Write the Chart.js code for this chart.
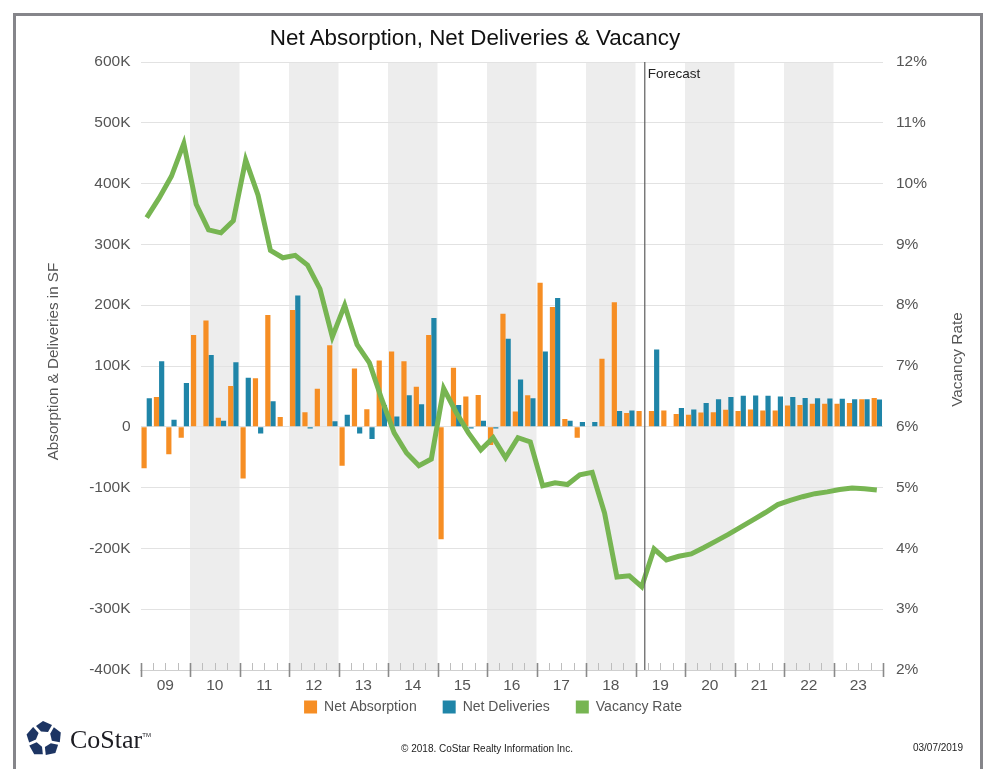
<!DOCTYPE html>
<html>
<head>
<meta charset="utf-8">
<title>Net Absorption, Net Deliveries & Vacancy</title>
<script src="https://cdn.jsdelivr.net/npm/chart.js@4"></script>
<style>
  html, body { margin: 0; padding: 0; background: #fff; overflow: hidden; }
  #page { position: relative; width: 994px; height: 769px; font-family: "Liberation Sans", Arial, sans-serif; }
  #frame { position: absolute; left: 13px; top: 13px; width: 964px; height: 760px; border: 3px solid #85858a; }
  #chart { position: absolute; left: 0; top: 0; }
  #title { position: absolute; left: 175px; width: 600px; top: 25px; text-align: center; font-size: 22.4px; color: #111; }
  #copy { position: absolute; left: 287px; width: 400px; top: 743px; text-align: center; font-size: 10px; color: #222; }
  #date { position: absolute; left: 863px; width: 100px; top: 742px; text-align: right; font-size: 10px; color: #222; }
  #logo { position: absolute; left: 26px; top: 720.5px; }
  #brand { position: absolute; left: 70px; top: 725px; font-family: "Liberation Serif", serif; font-size: 26px; color: #1c1c22; }
  #brand sup { font-family: "Liberation Sans", sans-serif; font-size: 6px; vertical-align: 11px; line-height: 0; }
</style>
</head>
<body>
<div id="page">
  <div id="frame"></div>
  <canvas id="chart" width="994" height="769"></canvas>
  <div id="title">Net Absorption, Net Deliveries &amp; Vacancy</div>
  <svg id="logo" width="36" height="36" viewBox="-18 -18 36 36">
    <g fill="#1d3563">
      <polygon id="p" points="-8,-13 -1,-18 8,-14 4,-7 -3,-7.5"/>
      <use href="#p" transform="rotate(72)"/>
      <use href="#p" transform="rotate(144)"/>
      <use href="#p" transform="rotate(216)"/>
      <use href="#p" transform="rotate(288)"/>
    </g>
  </svg>
  <div id="brand">CoStar<sup>TM</sup></div>
  <div id="copy">© 2018. CoStar Realty Information Inc.</div>
  <div id="date">03/07/2019</div>
</div>
<script>
const years = ["09","10","11","12","13","14","15","16","17","18","19","20","21","22","23"];
const quarters = years.flatMap(y => ["Q1","Q2","Q3","Q4"].map(q => y + " " + q));

// thousands of SF, one per quarter
const netAbsorption = [
  -68, 49, -45, -18,  151, 175, 15, 67,  -85, 80, 184, 16,  192, 24, 62.5, 134,
  -64, 96, 29, 109,  124, 108, 66, 151,  -185, 97, 50, 52.5,  -30, 186, 25, 52,
  237, 197, 13, -18,  0, 112, 205, 22.5,  26, 26, 27, 21,  20, 23.5, 24, 28,
  26, 28.5, 27, 27,  35, 36, 38, 38,  38, 39, 45.5, 47.5
];
const netDeliveries = [
  47, 108, 11.5, 72,  0, 118, 10, 106,  80.5, -11, 42, 0,  216, -3, 0, 9,
  20, -11, -20, 36,  17, 52, 37, 179,  0, 36, -3, 10,  -3, 145, 78, 47,
  124, 212, 10, 8,  8, 0, 26, 27,  0, 127, 1, 31,  28.5, 39, 45.5, 49,
  51, 51.5, 51, 50,  49, 47.5, 47, 46.5,  46, 45.5, 45.5, 45
];
// percent
const vacancyRate = [
  9.44, 9.76, 10.12, 10.66,  9.66, 9.24, 9.19, 9.39,  10.39, 9.81, 8.9, 8.78,  8.82, 8.66, 8.27, 7.48,
  8.0, 7.35, 7.05, 6.45,  5.9, 5.57, 5.36, 5.47,  6.63, 6.24, 5.9, 5.62,  5.82, 5.49, 5.82, 5.75,
  5.03, 5.08, 5.05, 5.21,  5.25, 4.58, 3.53, 3.55,  3.37, 3.99, 3.81, 3.87,  3.91, 4.01, 4.12, 4.23,
  4.35, 4.47, 4.59, 4.72,  4.79, 4.85, 4.90, 4.93,  4.97, 4.995, 4.98, 4.96
];
const legendOrder = ["Net Absorption", "Net Deliveries", "Vacancy Rate"];

const forecastAt = 40.25;   // quarter position of the forecast line
const textGray = "#555";
const font = "Liberation Sans";

function verticalTitle(ctx, text, x, y, size) {
  ctx.save();
  ctx.fillStyle = textGray;
  ctx.font = size + "px '" + font + "'";
  ctx.textAlign = "center";
  ctx.textBaseline = "middle";
  ctx.translate(x, y);
  ctx.rotate(-Math.PI / 2);
  ctx.fillText(text, 0, 0);
  ctx.restore();
}

// shaded years, forecast marker, axis tick marks and the two axis titles
const decorations = {
  id: "decorations",
  afterLayout(chart) {
    // the year labels need their box to stay unclipped, so the legend sits up over it
    chart.legend.top -= 20;
  },
  beforeDraw(chart) {
    const { ctx, chartArea: a, scales } = chart;
    const yr = scales.x2;
    const w = yr.width / years.length;
    ctx.save();
    ctx.fillStyle = "#ededed";
    years.forEach((y, i) => {
      if (i % 2 == 1) ctx.fillRect(yr.getPixelForValue(i) - w / 2, a.top, w, a.bottom - a.top);
    });
    ctx.restore();
  },
  afterDraw(chart) {
    const { ctx, chartArea: a, scales } = chart;
    const q = scales.x.width / quarters.length;
    ctx.save();
    for (let i = 0; i <= quarters.length; i++) {
      const px = Math.round(a.left + i * q) + 0.5;
      const major = i % 4 == 0;
      ctx.strokeStyle = major ? "#8a8a8a" : "#bdbdbd";
      ctx.lineWidth = major ? 1.6 : 1;
      ctx.beginPath();
      ctx.moveTo(px, a.bottom - 7);
      ctx.lineTo(px, a.bottom + (major ? 7 : 0));
      ctx.stroke();
    }
    const fx = scales.x.getPixelForValue(forecastAt);
    ctx.strokeStyle = "#5c5c5c";
    ctx.lineWidth = 1.2;
    ctx.beginPath();
    ctx.moveTo(fx, a.top);
    ctx.lineTo(fx, a.bottom);
    ctx.stroke();
    ctx.fillStyle = "#222";
    ctx.font = "13.5px '" + font + "'";
    ctx.textBaseline = "middle";
    ctx.fillText("Forecast", fx + 3, a.top + 12);
    ctx.restore();

    verticalTitle(ctx, "Absorption & Deliveries in SF", 54, 361.5, 15.2);
    verticalTitle(ctx, "Vacancy Rate", 958, 359.5, 15.4);
  }
};

new Chart(document.getElementById("chart"), {
  data: {
    labels: quarters,
    datasets: [
      { type: "line", label: "Vacancy Rate", data: vacancyRate, yAxisID: "y1", order: 0,
        borderColor: "#77b552", backgroundColor: "#77b552", borderWidth: 5,
        pointRadius: 0, tension: 0, borderJoinStyle: "miter" },
      { type: "bar", label: "Net Absorption", data: netAbsorption, yAxisID: "y", order: 1,
        backgroundColor: "#f68e24", categoryPercentage: 0.84, barPercentage: 1 },
      { type: "bar", label: "Net Deliveries", data: netDeliveries, yAxisID: "y", order: 2,
        backgroundColor: "#1f85a8", categoryPercentage: 0.84, barPercentage: 1 }
    ]
  },
  options: {
    responsive: false,
    animation: false,
    layout: { padding: { top: 62, bottom: 25, right: 8 } },
    plugins: {
      tooltip: { enabled: false },
      legend: {
        position: "bottom",
        labels: {
          boxWidth: 13, boxHeight: 13, padding: 26, color: textGray,
          font: { family: font, size: 14 },
          generateLabels(chart) {
            const items = Chart.defaults.plugins.legend.labels.generateLabels(chart);
            items.forEach(it => { it.lineWidth = 0; });
            return items.sort((a, b) => legendOrder.indexOf(a.text) - legendOrder.indexOf(b.text));
          }
        }
      }
    },
    scales: {
      x: { type: "category", display: false, offset: true, grid: { display: false } },
      x2: {
        type: "category", labels: years, position: "bottom", offset: true,
        grid: { display: false, drawTicks: false },
        border: { display: true, color: "#cfcfcf", width: 1 },
        ticks: { color: textGray, font: { family: font, size: 15.5 }, padding: 6, autoSkip: false, maxRotation: 0 },
        afterFit(s) { s.height = 24; }
      },
      y: {
        position: "left", min: -400, max: 600,
        grid: { color: "#e2e2e2", lineWidth: 1, drawTicks: false },
        border: { display: false },
        ticks: { stepSize: 100, padding: 10, color: textGray, font: { family: font, size: 15.5 }, callback: v => v == 0 ? "0" : v + "K" },
        afterFit(s) { s.width = 140.5; }
      },
      y1: {
        position: "right", min: 2, max: 12,
        grid: { display: false, drawTicks: false },
        border: { display: false },
        ticks: { stepSize: 1, padding: 13, color: textGray, font: { family: font, size: 15.5 }, callback: v => v + "%" },
        afterFit(s) { s.width = 103; }
      }
    }
  },
  plugins: [decorations]
});
</script>
</body>
</html>
